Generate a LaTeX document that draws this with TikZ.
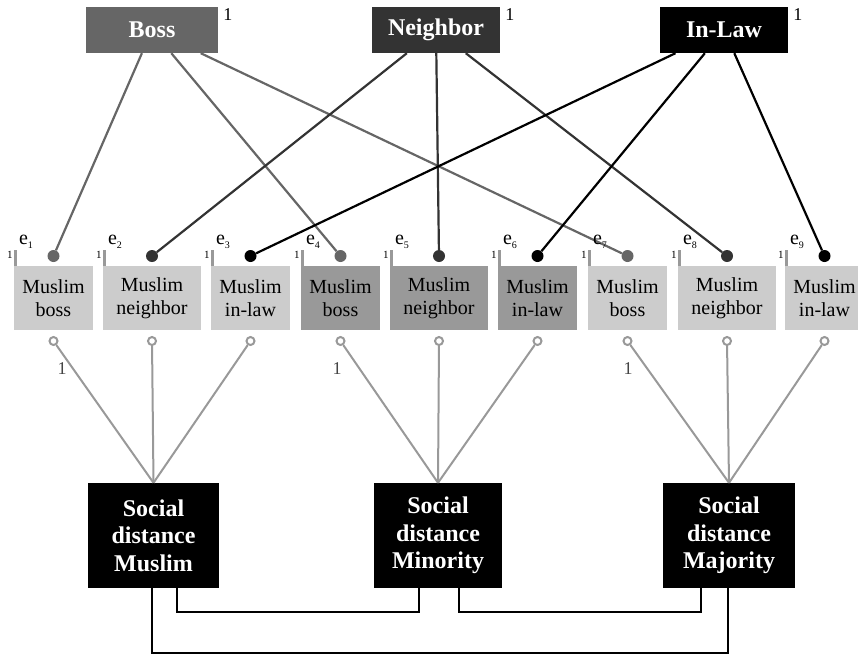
\documentclass[tikz,border=0pt]{standalone}
\usepackage{fontspec}
\setmainfont{Liberation Serif}
\usetikzlibrary{positioning}
\definecolor{bosscol}{HTML}{666666}
\definecolor{neighcol}{HTML}{333333}
\definecolor{inlawcol}{HTML}{000000}
\definecolor{litefill}{HTML}{CCCCCC}
\definecolor{midfill}{HTML}{999999}
\definecolor{loadcol}{HTML}{999999}
\definecolor{numcol}{HTML}{444444}
\newcommand{\esub}[1]{e\raisebox{-4pt}{\fontsize{10}{12}\selectfont #1}}
\begin{document}
\begin{tikzpicture}[x=1pt, y=-1pt,
    topbox/.style={fill=#1, text=white, minimum height=46pt, inner sep=0pt,
                   font=\fontsize{24}{28}\selectfont\bfseries},
    ind/.style={fill=#1, minimum height=64pt, minimum width=79pt, inner sep=0pt,
                align=center, font=\fontsize{20}{23}\selectfont},
    factor/.style={fill=black, text=white, minimum height=105pt, inner sep=0pt,
                   align=center, font=\fontsize{24}{27.5}\selectfont\bfseries},
    dot/.style={circle, fill=#1, inner sep=0pt, minimum size=12pt},
    opendot/.style={circle, draw=loadcol, line width=2pt, fill=white, inner sep=0pt, minimum size=8pt},
    path/.style={line width=2.2pt, draw=#1},
    loading/.style={line width=2pt, draw=loadcol},
    stub/.style={line width=3pt, draw=loadcol},
    elab/.style={inner sep=0pt, anchor=base west, font=\fontsize{20}{22}\selectfont},
    varlab/.style={inner sep=0pt, anchor=east, font=\fontsize{11}{12}\selectfont},
    onelab/.style={inner sep=0pt, font=\fontsize{18}{20}\selectfont, text=numcol},
    link/.style={line width=2.2pt, draw=black},
  ]
  \useasboundingbox (0,0) rectangle (858,656);

  % latent method factors
  \node[topbox=bosscol, minimum width=132pt] (boss) at (152,30) {Boss};
  \node[topbox=neighcol, minimum width=128pt] (neigh) at (436,30) {Neighbor};
  \node[topbox=inlawcol, minimum width=128pt] (inlaw) at (724,30) {In-Law};
  \node[onelab, anchor=west, text=black] at ([xshift=5pt,yshift=-8pt]boss.north east) {1};
  \node[onelab, anchor=west, text=black] at ([xshift=5pt,yshift=-8pt]neigh.north east) {1};
  \node[onelab, anchor=west, text=black] at ([xshift=5pt,yshift=-8pt]inlaw.north east) {1};

  % indicators
  \node[ind=litefill] (m1) at (53.5,298) {Muslim\\boss};
  \node[ind=litefill, minimum width=98pt] (m2) at (152,298) {Muslim\\neighbor};
  \node[ind=litefill] (m3) at (250.5,298) {Muslim\\in-law};
  \node[ind=midfill] (m4) at (340.5,298) {Muslim\\boss};
  \node[ind=midfill, minimum width=98pt] (m5) at (439,298) {Muslim\\neighbor};
  \node[ind=midfill] (m6) at (537.5,298) {Muslim\\in-law};
  \node[ind=litefill] (m7) at (627.5,298) {Muslim\\boss};
  \node[ind=litefill, minimum width=98pt] (m8) at (727,298) {Muslim\\neighbor};
  \node[ind=litefill] (m9) at (824.5,298) {Muslim\\in-law};

  % method loadings
  \node[dot=bosscol] (d1) at (53.5,256) {};
  \node[dot=neighcol] (d2) at (152,256) {};
  \node[dot=inlawcol] (d3) at (250.5,256) {};
  \node[dot=bosscol] (d4) at (340.5,256) {};
  \node[dot=neighcol] (d5) at (439,256) {};
  \node[dot=inlawcol] (d6) at (537.5,256) {};
  \node[dot=bosscol] (d7) at (627.5,256) {};
  \node[dot=neighcol] (d8) at (727,256) {};
  \node[dot=inlawcol] (d9) at (824.5,256) {};
  \draw[path=bosscol] (boss) -- (d1);
  \draw[path=bosscol] (boss) -- (d4);
  \draw[path=bosscol] (boss) -- (d7);
  \draw[path=neighcol] (neigh) -- (d2);
  \draw[path=neighcol] (neigh) -- (d5);
  \draw[path=neighcol] (neigh) -- (d8);
  \draw[path=inlawcol] (inlaw) -- (d3);
  \draw[path=inlawcol] (inlaw) -- (d6);
  \draw[path=inlawcol] (inlaw) -- (d9);

  % error terms
  \draw[stub] ([xshift=1.5pt]m1.north west) -- ++(0,-16);
  \draw[stub] ([xshift=1.5pt]m2.north west) -- ++(0,-16);
  \draw[stub] ([xshift=1.5pt]m3.north west) -- ++(0,-16);
  \draw[stub] ([xshift=1.5pt]m4.north west) -- ++(0,-16);
  \draw[stub] ([xshift=1.5pt]m5.north west) -- ++(0,-16);
  \draw[stub] ([xshift=1.5pt]m6.north west) -- ++(0,-16);
  \draw[stub] ([xshift=1.5pt]m7.north west) -- ++(0,-16);
  \draw[stub] ([xshift=1.5pt]m8.north west) -- ++(0,-16);
  \draw[stub] ([xshift=1.5pt]m9.north west) -- ++(0,-16);
  \node[elab] at ([xshift=5pt,yshift=21pt]m1.north west) {\esub{1}};
  \node[elab] at ([xshift=5pt,yshift=21pt]m2.north west) {\esub{2}};
  \node[elab] at ([xshift=5pt,yshift=21pt]m3.north west) {\esub{3}};
  \node[elab] at ([xshift=5pt,yshift=21pt]m4.north west) {\esub{4}};
  \node[elab] at ([xshift=5pt,yshift=21pt]m5.north west) {\esub{5}};
  \node[elab] at ([xshift=5pt,yshift=21pt]m6.north west) {\esub{6}};
  \node[elab] at ([xshift=5pt,yshift=21pt]m7.north west) {\esub{7}};
  \node[elab] at ([xshift=5pt,yshift=21pt]m8.north west) {\esub{8}};
  \node[elab] at ([xshift=5pt,yshift=21pt]m9.north west) {\esub{9}};
  \node[varlab] at ([xshift=-1pt,yshift=11pt]m1.north west) {1};
  \node[varlab] at ([xshift=-1pt,yshift=11pt]m2.north west) {1};
  \node[varlab] at ([xshift=-1pt,yshift=11pt]m3.north west) {1};
  \node[varlab] at ([xshift=-1pt,yshift=11pt]m4.north west) {1};
  \node[varlab] at ([xshift=-1pt,yshift=11pt]m5.north west) {1};
  \node[varlab] at ([xshift=-1pt,yshift=11pt]m6.north west) {1};
  \node[varlab] at ([xshift=-1pt,yshift=11pt]m7.north west) {1};
  \node[varlab] at ([xshift=-1pt,yshift=11pt]m8.north west) {1};
  \node[varlab] at ([xshift=-1pt,yshift=11pt]m9.north west) {1};

  % substantive factors
  \node[factor, minimum width=131pt] (f1) at (153.5,535.5) {Social\\distance\\Muslim};
  \node[factor, minimum width=128pt] (f2) at (438,535.5) {Social\\distance\\Minority};
  \node[factor, minimum width=132pt] (f3) at (729,535.5) {Social\\distance\\Majority};

  \node[opendot] (o1) at (53.5,341) {};
  \node[opendot] (o2) at (152,341) {};
  \node[opendot] (o3) at (250.5,341) {};
  \node[opendot] (o4) at (340.5,341) {};
  \node[opendot] (o5) at (439,341) {};
  \node[opendot] (o6) at (537.5,341) {};
  \node[opendot] (o7) at (627.5,341) {};
  \node[opendot] (o8) at (727,341) {};
  \node[opendot] (o9) at (824.5,341) {};
  \draw[loading] (o1) -- (f1.north);
  \draw[loading] (o2) -- (f1.north);
  \draw[loading] (o3) -- (f1.north);
  \draw[loading] (o4) -- (f2.north);
  \draw[loading] (o5) -- (f2.north);
  \draw[loading] (o6) -- (f2.north);
  \draw[loading] (o7) -- (f3.north);
  \draw[loading] (o8) -- (f3.north);
  \draw[loading] (o9) -- (f3.north);
  \node[onelab] at (62,369) {1};
  \node[onelab] at (337,369) {1};
  \node[onelab] at (628,369) {1};

  % covariances
  \draw[link] ([xshift=23.5pt]f1.south) -- ++(0,24) -| ([xshift=-19pt]f2.south);
  \draw[link] ([xshift=21pt]f2.south) -- ++(0,24) -| ([xshift=-28pt]f3.south);
  \draw[link] ([xshift=-1.5pt]f1.south) -- ++(0,65) -| ([xshift=-1pt]f3.south);
\end{tikzpicture}
\end{document}
